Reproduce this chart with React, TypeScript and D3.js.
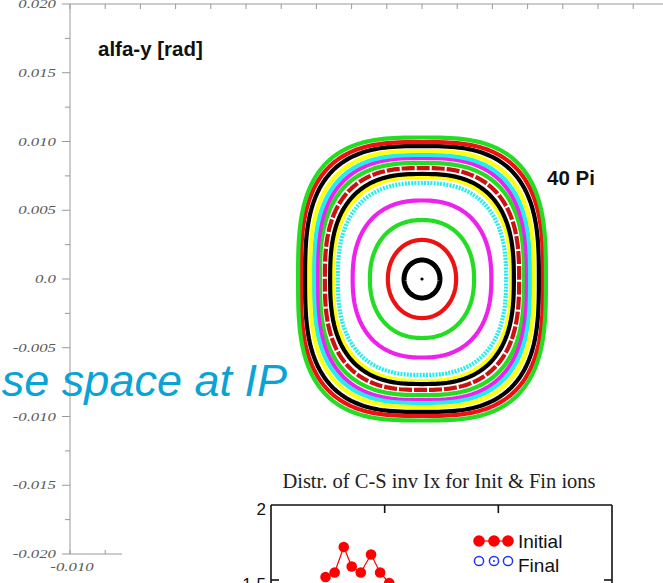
import React from 'react';
import * as d3 from 'd3';

const W = 663;
const H = 583;

// ---- main phase-space plot ----
const yTickValues = [0.02, 0.015, 0.01, 0.005, 0, -0.005, -0.01, -0.015, -0.02];
const yTickLabels = ['0.020', '0.015', '0.010', '0.005', '0.0', '-0.005', '-0.010', '-0.015', '-0.020'];
const yMinorTicks = [0.0175, 0.0125, 0.0075, 0.0025, -0.0025, -0.0075, -0.0125, -0.0175];
const xTopTicks = [-0.01, -0.009, -0.008, -0.007, -0.006, -0.005, -0.004, -0.003, -0.002, -0.001, 0, 0.001, 0.002, 0.003, 0.004, 0.005, 0.006, 0.007];
const xBottomTicks = [-0.01, -0.009];
const xBottomLabels = ['-0.010'];

// contours, innermost first
const ringColors = ['#000000', '#ee1111', '#22dd22', '#ee22ee', '#22eeee', '#ffff11', '#000000', '#cc1111', '#22dd22', '#ee22ee', '#22eeee', '#ffff11', '#000000', '#ee1111', '#22dd22'];
const ringHalfX = [0.00051, 0.00097, 0.00148, 0.00197, 0.00239, 0.00253, 0.00261, 0.00276, 0.0029, 0.00298, 0.00307, 0.00318, 0.00332, 0.00344, 0.00352];
const ringHalfY = [0.00138, 0.00284, 0.00429, 0.00571, 0.00698, 0.00742, 0.00764, 0.00807, 0.00844, 0.0088, 0.00902, 0.00931, 0.00967, 0.00996, 0.01029];
const ringSquareness = [2.0, 2.05, 2.2, 2.35, 2.55, 2.6, 2.65, 2.7, 2.75, 2.8, 2.85, 2.9, 2.95, 3.0, 3.05];
const ringStyles = ['solid', 'solid', 'solid', 'solid', 'dotted', 'solid', 'solid', 'dashed', 'solid', 'solid', 'solid', 'solid', 'solid', 'solid', 'solid'];

// ---- inset distribution plot ----
const insetTitle = 'Distr. of C-S inv Ix for Init & Fin ions';
const initialX = [4.8, 5.6, 6.4, 7.1, 7.9, 8.8, 9.6, 10.4];
const initialY = [1.52, 1.55, 1.72, 1.59, 1.55, 1.67, 1.55, 1.48];
const insetYTicks = [2, 1.5];
const insetYLabels = ['2', '1.5'];
const insetXTicks = [10, 20];
const legendLabels = ['Initial', 'Final'];

export default function App() {
  const xScale = d3.scaleLinear().domain([-0.01, 0]).range([70, 422]);
  const yScale = d3.scaleLinear().domain([-0.02, 0.02]).range([554, 4]);

  const ringPath = (i: number) => {
    const n = ringSquareness[i];
    const pts: [number, number][] = d3.range(0, 360, 1.5).map((deg) => {
      const t = (deg * Math.PI) / 180;
      const c = Math.cos(t);
      const s = Math.sin(t);
      const px = ringHalfX[i] * Math.sign(c) * Math.pow(Math.abs(c), 2 / n);
      const py = ringHalfY[i] * Math.sign(s) * Math.pow(Math.abs(s), 2 / n);
      return [px, py];
    });
    return d3
      .line<[number, number]>()
      .x((d) => xScale(d[0]))
      .y((d) => yScale(d[1]))
      .curve(d3.curveLinearClosed)(pts) as string;
  };

  const ix = d3.scaleLinear().domain([0, 30]).range([271, 612]);
  const iy = d3.scaleLinear().domain([1.5, 2]).range([580, 505]);
  const initPts = initialX.map((x, i) => [x, initialY[i]] as [number, number]);
  const initLine = d3
    .line<[number, number]>()
    .x((d) => ix(d[0]))
    .y((d) => iy(d[1]))(initPts) as string;

  const axisCol = '#999';
  const labCol = '#5a5a5a';

  return (
    <svg width={W} height={H} style={{ position: 'absolute', left: 0, top: 0, background: '#fff' }}>
      <rect x={0} y={0} width={W} height={H} fill="#fff" />
      <defs>
        <clipPath id="insetClip">
          <rect x={ix(0)} y={iy(2)} width={ix(30) - ix(0)} height={H - iy(2)} />
        </clipPath>
      </defs>

      {/* contours */}
      <g fill="none">
        {ringColors.map((col, i) => (
          <path
            key={i}
            d={ringPath(i)}
            stroke={col}
            strokeWidth={i === 0 ? 5 : 4.2}
            strokeDasharray={ringStyles[i] === 'dotted' ? '2 1.2' : ringStyles[i] === 'dashed' ? '13 2' : undefined}
            strokeLinejoin="round"
          />
        ))}
      </g>
      <circle cx={xScale(0)} cy={yScale(0)} r={1.6} fill="#000" />

      {/* left axis */}
      <line x1={70} x2={70} y1={yScale(0.02)} y2={yScale(-0.02)} stroke={axisCol} strokeWidth={1} />
      {yTickValues.map((v, i) => (
        <g key={'yt' + i}>
          <line x1={62} x2={70} y1={yScale(v)} y2={yScale(v)} stroke={axisCol} />
          <text
            transform={`translate(56,${yScale(v) + 4}) scale(1.4,1)`}
            textAnchor="end"
            fontFamily="Liberation Serif"
            fontStyle="italic"
            fontSize={12}
            fill={labCol}
          >
            {yTickLabels[i]}
          </text>
        </g>
      ))}
      {yMinorTicks.map((v, i) => (
        <line key={'ym' + i} x1={65} x2={70} y1={yScale(v)} y2={yScale(v)} stroke={axisCol} />
      ))}

      {/* top axis */}
      <line x1={70} x2={W} y1={yScale(0.02)} y2={yScale(0.02)} stroke={axisCol} />
      {xTopTicks.map((v, i) => (
        <line key={'xt' + i} x1={xScale(v)} x2={xScale(v)} y1={yScale(0.02)} y2={yScale(0.02) + 5} stroke={axisCol} />
      ))}

      {/* bottom axis */}
      <line x1={70} x2={130} y1={yScale(-0.02)} y2={yScale(-0.02)} stroke={axisCol} />
      {xBottomTicks.map((v, i) => (
        <line key={'xb' + i} x1={xScale(v)} x2={xScale(v)} y1={yScale(-0.02)} y2={yScale(-0.02) - 4} stroke={axisCol} />
      ))}
      <text
        transform={`translate(${xScale(-0.01) + 2},571) scale(1.4,1)`}
        textAnchor="middle"
        fontFamily="Liberation Serif"
        fontStyle="italic"
        fontSize={12}
        fill={labCol}
      >
        {xBottomLabels[0]}
      </text>

      {/* annotations */}
      <text x={98} y={56} fontFamily="Liberation Sans" fontWeight="bold" fontSize={20.5} fill="#111">
        alfa-y [rad]
      </text>
      <text x={547} y={185} fontFamily="Liberation Sans" fontWeight="bold" fontSize={20.5} fill="#111">
        40 Pi
      </text>
      <text x={287} y={396} textAnchor="end" fontFamily="Liberation Sans" fontStyle="italic" fontSize={45} fill="#0aa3d6">
        se space at IP
      </text>

      {/* inset */}
      <rect x={122} y={468} width={W - 122} height={H - 468} fill="#fff" />
      <text x={439} y={488} textAnchor="middle" fontFamily="Liberation Serif" fontSize={20.5} fill="#222">
        {insetTitle}
      </text>
      <g stroke="#111" strokeWidth={1.6} fill="none">
        <line x1={ix(0)} x2={ix(0)} y1={iy(2)} y2={H} />
        <line x1={ix(30)} x2={ix(30)} y1={iy(2)} y2={H} />
        <line x1={ix(0)} x2={ix(30)} y1={iy(2)} y2={iy(2)} />
        {insetXTicks.map((v, i) => (
          <line key={'ixt' + i} x1={ix(v)} x2={ix(v)} y1={iy(2)} y2={iy(2) + 8} />
        ))}
        <line x1={ix(0)} x2={ix(0) + 8} y1={iy(1.5)} y2={iy(1.5)} />
        <line x1={ix(30) - 8} x2={ix(30)} y1={iy(1.5)} y2={iy(1.5)} />
      </g>
      {insetYTicks.map((v, i) => (
        <text key={'iyl' + i} x={266} y={iy(v) + 10} textAnchor="end" fontFamily="Liberation Sans" fontSize={17} fill="#111">
          {insetYLabels[i]}
        </text>
      ))}
      <g clipPath="url(#insetClip)">
        <path d={initLine} fill="none" stroke="#ff0000" strokeWidth={1.2} />
        {initPts.map((d, i) => (
          <circle key={'ip' + i} cx={ix(d[0])} cy={iy(d[1])} r={5.3} fill="#ff0000" />
        ))}
      </g>

      {/* legend */}
      {[479, 494, 508].map((cx, i) => (
        <circle key={'lr' + i} cx={cx} cy={541} r={5.8} fill="#ff0000" />
      ))}
      <line x1={479} x2={508} y1={541} y2={541} stroke="#ff0000" strokeWidth={1.2} />
      {[479, 494, 508].map((cx, i) => (
        <circle key={'lb' + i} cx={cx} cy={561} r={4.6} fill="#fff" stroke="#2233ff" strokeWidth={1.5} />
      ))}
      <circle cx={494} cy={561} r={1} fill="#2233ff" />
      <text x={518} y={548} fontFamily="Liberation Sans" fontSize={19} fill="#111">
        {legendLabels[0]}
      </text>
      <text x={518} y={572} fontFamily="Liberation Sans" fontSize={19} fill="#111">
        {legendLabels[1]}
      </text>
    </svg>
  );
}
